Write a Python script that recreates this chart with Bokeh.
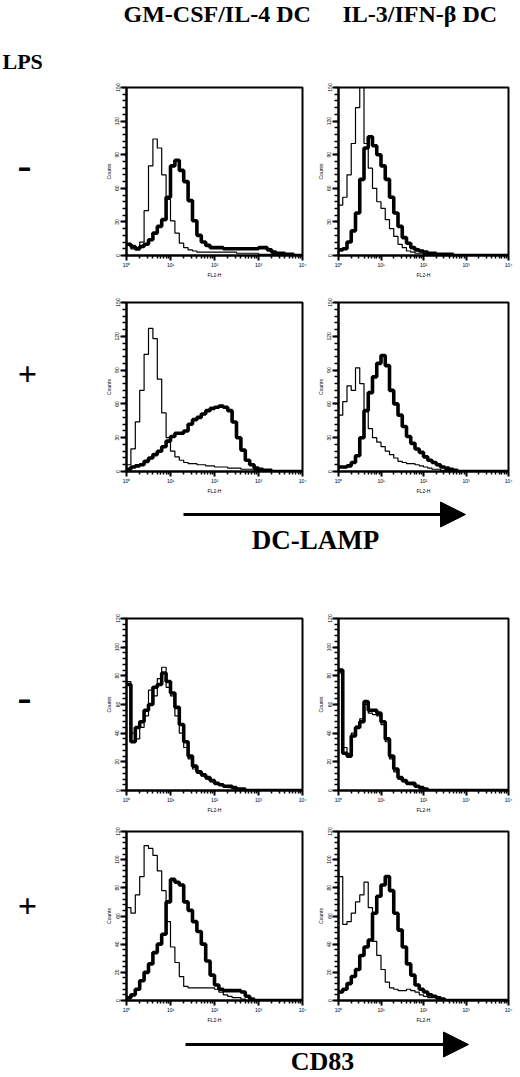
import numpy as np
from bokeh.plotting import figure
from bokeh.layouts import column, row
from bokeh.models import Range1d, FixedTicker, Arrow, NormalHead
from bokeh.core.properties import value
from bokeh.embed import file_html
from bokeh.resources import INLINE

# ---------------- data ----------------
COLUMN_LABELS = ["GM-CSF/IL-4  DC", "IL-3/IFN-β  DC"]
TREATMENT_LABEL = "LPS"
ROW_LABELS = ["-", "+", "-", "+"]
MARKERS = ["DC-LAMP", "CD83"]
X_LABEL = "FL2-H"
Y_LABEL = "Counts"
LOG_EDGES = [round(0.1 * i, 1) for i in range(41)]          # log10 fluorescence bin edges
X_TICKS = [1, 10, 100, 1000, 10000]
X_TICK_LABELS = ["10⁰", "10¹", "10²", "10³", "10⁴"]
Y_MAX = [150, 150, 120, 120]
Y_STEP = [30, 30, 20, 20]

# DC-LAMP, GM-CSF/IL-4 DC, LPS -
DCLAMP_GM_MINUS_CTRL = [10, 6, 5, 12, 40, 80, 104, 96, 72, 50, 31, 20, 11, 7, 5, 4, 3, 3, 3, 3,
                        3, 3, 3, 3, 3, 2, 2, 2, 2, 2, 1, 1, 1, 1, 0, 0, 0, 0, 0, 0]
DCLAMP_GM_MINUS_STAIN = [10, 8, 6, 8, 10, 14, 20, 26, 32, 52, 80, 85, 76, 66, 49, 31, 18, 12, 9, 7,
                         7, 7, 6, 6, 6, 6, 6, 6, 6, 6, 7, 7, 5, 3, 2, 2, 1, 1, 0, 0]
# DC-LAMP, IL-3/IFN-b DC, LPS -
DCLAMP_IL3_MINUS_CTRL = [45, 52, 72, 100, 132, 150, 100, 78, 60, 48, 42, 32, 24, 17, 10, 7, 4, 3, 2, 2,
                         1, 1, 1, 1, 0, 0, 0, 0, 0, 0, 0, 0, 0, 0, 0, 0, 0, 0, 0, 0]
DCLAMP_IL3_MINUS_STAIN = [5, 6, 12, 22, 38, 68, 96, 106, 98, 90, 80, 68, 52, 38, 26, 16, 11, 7, 5, 4,
                          3, 2, 2, 1, 1, 1, 1, 0, 0, 0, 0, 0, 0, 0, 0, 0, 0, 0, 0, 0]
# DC-LAMP, GM-CSF/IL-4 DC, LPS +
DCLAMP_GM_PLUS_CTRL = [6, 20, 44, 72, 104, 127, 118, 82, 52, 30, 18, 13, 10, 8, 7, 7, 6, 6, 5, 5,
                       4, 4, 4, 3, 3, 3, 2, 2, 2, 1, 1, 0, 0, 0, 0, 0, 0, 0, 0, 0]
DCLAMP_GM_PLUS_STAIN = [2, 4, 5, 6, 9, 12, 15, 18, 22, 27, 31, 34, 34, 36, 42, 46, 48, 51, 54, 56,
                        57, 58, 57, 54, 44, 30, 19, 10, 6, 3, 2, 1, 1, 0, 0, 0, 0, 0, 0, 0]
# DC-LAMP, IL-3/IFN-b DC, LPS +
DCLAMP_IL3_PLUS_CTRL = [50, 62, 76, 72, 92, 78, 55, 38, 30, 26, 22, 18, 15, 12, 9, 8, 7, 7, 6, 5,
                        4, 3, 2, 2, 1, 1, 0, 0, 0, 0, 0, 0, 0, 0, 0, 0, 0, 0, 0, 0]
DCLAMP_IL3_PLUS_STAIN = [4, 4, 5, 8, 14, 30, 54, 70, 84, 96, 103, 94, 72, 60, 50, 40, 31, 25, 20, 17,
                         13, 10, 8, 6, 4, 3, 2, 1, 0, 0, 0, 0, 0, 0, 0, 0, 0, 0, 0, 0]
# CD83, GM-CSF/IL-4 DC, LPS -
CD83_GM_MINUS_CTRL = [76, 40, 36, 44, 52, 70, 66, 78, 86, 72, 66, 52, 40, 30, 22, 15, 12, 10, 8, 6,
                      5, 4, 3, 2, 2, 1, 0, 0, 0, 0, 0, 0, 0, 0, 0, 0, 0, 0, 0, 0]
CD83_GM_MINUS_STAIN = [74, 34, 44, 48, 56, 60, 72, 74, 82, 76, 68, 58, 46, 34, 24, 17, 13, 11, 9, 7,
                       5, 4, 3, 3, 2, 1, 1, 0, 0, 0, 0, 0, 0, 0, 0, 0, 0, 0, 0, 0]
# CD83, IL-3/IFN-b DC, LPS -
CD83_IL3_MINUS_CTRL = [82, 30, 26, 40, 45, 50, 60, 54, 53, 52, 46, 34, 22, 13, 8, 6, 5, 4, 3, 2,
                       1, 0, 0, 0, 0, 0, 0, 0, 0, 0, 0, 0, 0, 0, 0, 0, 0, 0, 0, 0]
CD83_IL3_MINUS_STAIN = [84, 26, 24, 38, 44, 48, 62, 56, 56, 54, 48, 36, 24, 15, 9, 7, 5, 5, 3, 2,
                        1, 0, 0, 0, 0, 0, 0, 0, 0, 0, 0, 0, 0, 0, 0, 0, 0, 0, 0, 0]
# CD83, GM-CSF/IL-4 DC, LPS +
CD83_GM_PLUS_CTRL = [66, 62, 75, 88, 110, 108, 103, 92, 78, 56, 38, 27, 17, 10, 9, 9, 9, 9, 9, 9,
                     8, 6, 4, 3, 2, 2, 1, 0, 0, 0, 0, 0, 0, 0, 0, 0, 0, 0, 0, 0]
CD83_GM_PLUS_STAIN = [2, 4, 8, 14, 20, 26, 34, 40, 47, 70, 86, 84, 82, 70, 64, 56, 49, 40, 28, 18,
                      11, 8, 7, 7, 7, 7, 6, 3, 1, 0, 0, 0, 0, 0, 0, 0, 0, 0, 0, 0]
# CD83, IL-3/IFN-b DC, LPS +
CD83_IL3_PLUS_CTRL = [88, 54, 56, 62, 70, 75, 84, 66, 42, 32, 22, 13, 9, 8, 7, 7, 8, 7, 6, 4,
                      3, 2, 2, 1, 0, 0, 0, 0, 0, 0, 0, 0, 0, 0, 0, 0, 0, 0, 0, 0]
CD83_IL3_PLUS_STAIN = [6, 8, 12, 17, 22, 32, 38, 43, 62, 74, 82, 88, 78, 62, 50, 38, 26, 18, 11, 8,
                       6, 4, 3, 2, 1, 0, 0, 0, 0, 0, 0, 0, 0, 0, 0, 0, 0, 0, 0, 0]

PANELS = [
    [(DCLAMP_GM_MINUS_CTRL, DCLAMP_GM_MINUS_STAIN), (DCLAMP_IL3_MINUS_CTRL, DCLAMP_IL3_MINUS_STAIN)],
    [(DCLAMP_GM_PLUS_CTRL, DCLAMP_GM_PLUS_STAIN), (DCLAMP_IL3_PLUS_CTRL, DCLAMP_IL3_PLUS_STAIN)],
    [(CD83_GM_MINUS_CTRL, CD83_GM_MINUS_STAIN), (CD83_IL3_MINUS_CTRL, CD83_IL3_MINUS_STAIN)],
    [(CD83_GM_PLUS_CTRL, CD83_GM_PLUS_STAIN), (CD83_IL3_PLUS_CTRL, CD83_IL3_PLUS_STAIN)],
]

# ---------------- layout constants (pixels) ----------------
TOTAL_W = 519
LABEL_W = 96
FRAME_W = [176, 170]
BORDER_L = [30, 24]
BORDER_R = [12, 11]
FRAME_H = [172, 174, 177, 174]
BORDER_T = [7, 22, 22, 16]
BORDER_B = [21, 20, 20, 20]
HEADER_H = 80
ARROW_H = [100, 51]

SERIF = value("Liberation Serif")


def blank(w, h):
    p = figure(width=w, height=h, x_range=Range1d(0, w), y_range=Range1d(h, 0),
               x_axis_location=None, y_axis_location=None, toolbar_location=None,
               output_backend="svg", min_border=0, title=None)
    p.outline_line_color = None
    p.grid.visible = False
    p.background_fill_color = "white"
    p.border_fill_color = "white"
    return p


def style_axis(ax):
    ax.axis_line_width = 2
    ax.axis_line_color = "black"
    ax.major_tick_line_width = 2
    ax.minor_tick_line_width = 1.5
    ax.major_tick_line_color = "black"
    ax.minor_tick_line_color = "black"
    ax.major_tick_in = 0
    ax.minor_tick_in = 0
    ax.major_label_text_font = "Liberation Sans"
    ax.major_label_text_font_size = "5px"
    ax.major_label_text_color = "black"
    ax.axis_label_text_font = "Liberation Sans"
    ax.axis_label_text_font_size = "5px"
    ax.axis_label_text_font_style = "normal"
    ax.axis_label_text_color = "black"
    ax.major_label_standoff = 1
    ax.axis_label_standoff = 1


def panel(ctrl, stain, ri, ci):
    fw, fh = FRAME_W[ci], FRAME_H[ri]
    bl, br, bt, bb = BORDER_L[ci], BORDER_R[ci], BORDER_T[ri], BORDER_B[ri]
    p = figure(width=fw + bl + br, height=fh + bt + bb, x_axis_type="log",
               x_range=Range1d(10 ** LOG_EDGES[0], 10 ** LOG_EDGES[-1]),
               y_range=Range1d(0, Y_MAX[ri]), toolbar_location=None, output_backend="svg",
               min_border_left=bl, min_border_right=br, min_border_top=bt, min_border_bottom=bb,
               title=None)
    p.grid.visible = False
    p.outline_line_color = "black"
    p.outline_line_width = 2
    p.outline_line_alpha = 1
    p.background_fill_color = "white"
    p.border_fill_color = "white"
    edges = [10 ** e for e in LOG_EDGES]
    p.step(edges, list(stain) + [stain[-1]], mode="after", line_width=3.6, line_color="black")
    p.step(edges, list(ctrl) + [ctrl[-1]], mode="after", line_width=1.2, line_color="black")

    minor = [m * 10 ** d for d in range(4) for m in range(2, 10)]
    p.xaxis.ticker = FixedTicker(ticks=X_TICKS, minor_ticks=minor)
    p.xaxis.major_label_overrides = {float(t): s for t, s in zip(X_TICKS, X_TICK_LABELS)}
    p.xaxis.axis_label = X_LABEL
    style_axis(p.xaxis[0])
    p.xaxis.major_tick_out = 5
    p.xaxis.minor_tick_out = 3

    step = Y_STEP[ri]
    ymaj = list(range(0, Y_MAX[ri] + 1, step))
    ymin = [v * step / 5 for v in range(0, 5 * (len(ymaj) - 1) + 1)]
    p.yaxis.ticker = FixedTicker(ticks=ymaj, minor_ticks=ymin)
    p.yaxis.axis_label = Y_LABEL
    style_axis(p.yaxis[0])
    p.yaxis.major_label_orientation = "vertical"
    p.yaxis.major_tick_out = 6
    p.yaxis.minor_tick_out = 4
    return p


# header with column titles and the LPS label
header = blank(TOTAL_W, HEADER_H)
header.text(x=[123, 342], y=[13, 13], text=COLUMN_LABELS, text_font=SERIF,
            text_font_style="bold", text_font_size="24px", text_baseline="alphabetic",
            text_align="left", text_color="black")
header.text(x=[2], y=[61], text=[TREATMENT_LABEL], text_font=SERIF, text_font_style="bold",
            text_font_size="22px", text_baseline="alphabetic", text_align="left",
            text_color="black")

rows = []
LABEL_Y = [92, 92, 100, 93]
LABEL_X = [24, 27, 24, 27]
for ri in range(4):
    h = FRAME_H[ri] + BORDER_T[ri] + BORDER_B[ri]
    lab = blank(LABEL_W, h)
    is_minus = ROW_LABELS[ri] == "-"
    lab.text(x=[LABEL_X[ri]], y=[LABEL_Y[ri]], text=[ROW_LABELS[ri]], text_font=SERIF,
             text_font_style="bold", text_font_size="42px" if is_minus else "34px",
             text_baseline="middle", text_align="center", text_color="black")
    p1 = panel(*PANELS[ri][0], ri, 0)
    p2 = panel(*PANELS[ri][1], ri, 1)
    rows.append(row(lab, p1, p2))


def arrow_fig(h, label, ay, ty, x0, x1, tx, size):
    a = blank(TOTAL_W, h)
    a.add_layout(Arrow(end=NormalHead(size=25, fill_color="black", line_color="black"),
                       x_start=x0, y_start=ay, x_end=x1, y_end=ay,
                       line_width=3, line_color="black"))
    a.text(x=[tx], y=[ty], text=[label], text_font=SERIF, text_font_style="bold",
           text_font_size=size, text_baseline="alphabetic", text_align="center",
           text_color="black")
    return a


arrow1 = arrow_fig(ARROW_H[0], MARKERS[0], 18, 43, 183, 465, 315, "27px")
arrow2 = arrow_fig(ARROW_H[1], MARKERS[1], 19, 36, 185, 468, 322, "26px")

layout = column(header, rows[0], rows[1], arrow1, rows[2], rows[3], arrow2)

open("out.html", "w").write(file_html(layout, INLINE))
